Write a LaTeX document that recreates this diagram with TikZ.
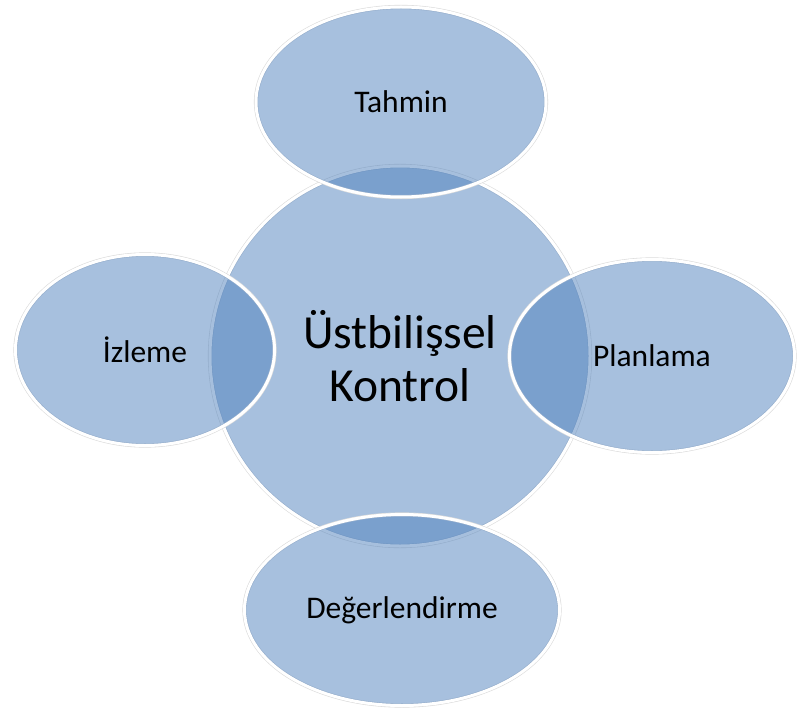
\documentclass[tikz,border=0pt]{standalone}
\usepackage{fontspec}
\setmainfont{Carlito}
\usepackage{xcolor}
\usepackage{tikz}
\usetikzlibrary{shapes.geometric}
\definecolor{bubbleblue}{RGB}{79,129,189}

\begin{document}
\begin{tikzpicture}[
    x=1bp, y=-1bp,
    bubble/.style={ellipse, fill=bubbleblue, fill opacity=0.5, text opacity=1,
        draw=white, line width=3bp, inner sep=0pt,
        preaction={draw=black!14, draw opacity=1, line width=4.2bp}},
    corelabel/.style={font=\fontsize{47.5bp}{53bp}\selectfont, align=center},
    steplabel/.style={font=\fontsize{31.5bp}{36bp}\selectfont}
]
\useasboundingbox (0,0) rectangle (797,713);
\node[bubble,corelabel,minimum width=380bp,minimum height=380bp] (control) at (400,356) {Üstbilişsel\\Kontrol};

\node[bubble,steplabel,minimum width=290bp,minimum height=190bp] (tahmin) at (401,102) {Tahmin};
\node[bubble,steplabel,minimum width=259bp,minimum height=191bp] (izleme) at (145,350) {İzleme};
\node[bubble,steplabel,minimum width=285bp,minimum height=193bp] (planlama) at (652,356) {Planlama};
\node[bubble,steplabel,minimum width=315bp,minimum height=191bp] (degerlendirme) at (402,610) {Değerlendirme};
\end{tikzpicture}
\end{document}
